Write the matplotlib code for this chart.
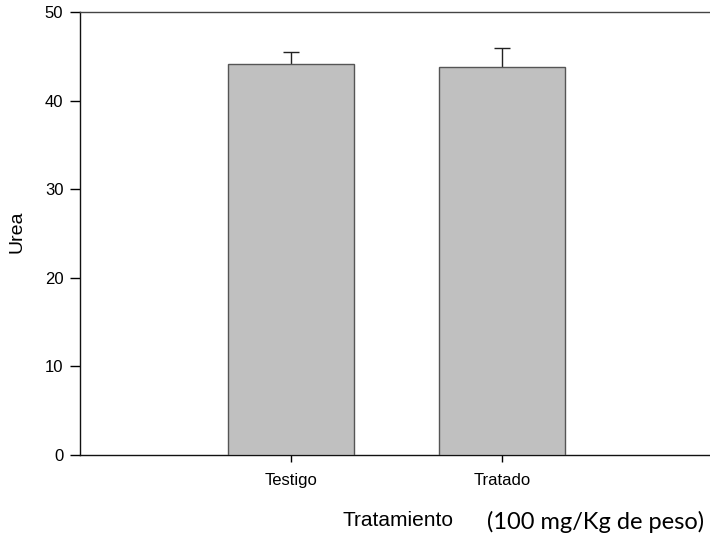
import matplotlib
matplotlib.use("Agg")
import matplotlib.pyplot as plt

# Urea by treatment group, mean with upper error bar
groups = ["Testigo", "Tratado"]
urea_mean = [44.1, 43.8]
urea_err = [1.4, 2.1]

plt.rcParams['font.family'] = ['Liberation Sans', 'DejaVu Sans']

fig = plt.figure(figsize=(7.10, 5.38), dpi=100)
ax = fig.add_axes([80 / 710, 83 / 538, 633 / 710, 443 / 538])

pos = [1, 2]
ax.bar(pos, urea_mean, width=0.6, color="#c0c0c0", edgecolor="#555555",
       linewidth=1.0, zorder=3)
# upper error only: stem without caps, then a single cap marker at the top
ax.errorbar(pos, urea_mean, yerr=[[0, 0], urea_err], fmt="none",
            ecolor="#222222", elinewidth=1.0, capsize=0, zorder=2)
tops = [m + e for m, e in zip(urea_mean, urea_err)]
ax.plot(pos, tops, linestyle="none", marker="_", markersize=12,
        markeredgewidth=1.0, color="#222222", zorder=2)

ax.set_xlim(0, 3)
ax.set_ylim(0, 50)
ax.set_yticks([0, 10, 20, 30, 40, 50])
ax.set_xticks(pos)
ax.set_xticklabels(groups, fontsize=12)
ax.tick_params(axis="y", labelsize=12, direction="out", length=7, width=1.0, pad=5)
ax.tick_params(axis="x", direction="out", length=5, width=1.0, pad=8)

ax.spines["right"].set_visible(False)
for s in ("left", "bottom", "top"):
    ax.spines[s].set_linewidth(1.0)
    ax.spines[s].set_color("#111111")
ax.spines["top"].set_color("#444444")

fig.text(17 / 710, 1 - 232 / 538, "Urea", fontsize=14, rotation=90,
         ha="center", va="center")
fig.text(398 / 710, 1 - 520 / 538, "Tratamiento", fontsize=15, ha="center", va="center")
fig.text(596 / 710, 1 - 522 / 538, "(100 mg/Kg de peso)", fontsize=17,
         family=["Lato", "DejaVu Sans"], ha="center", va="center")

fig.savefig("out.png", dpi=100)
